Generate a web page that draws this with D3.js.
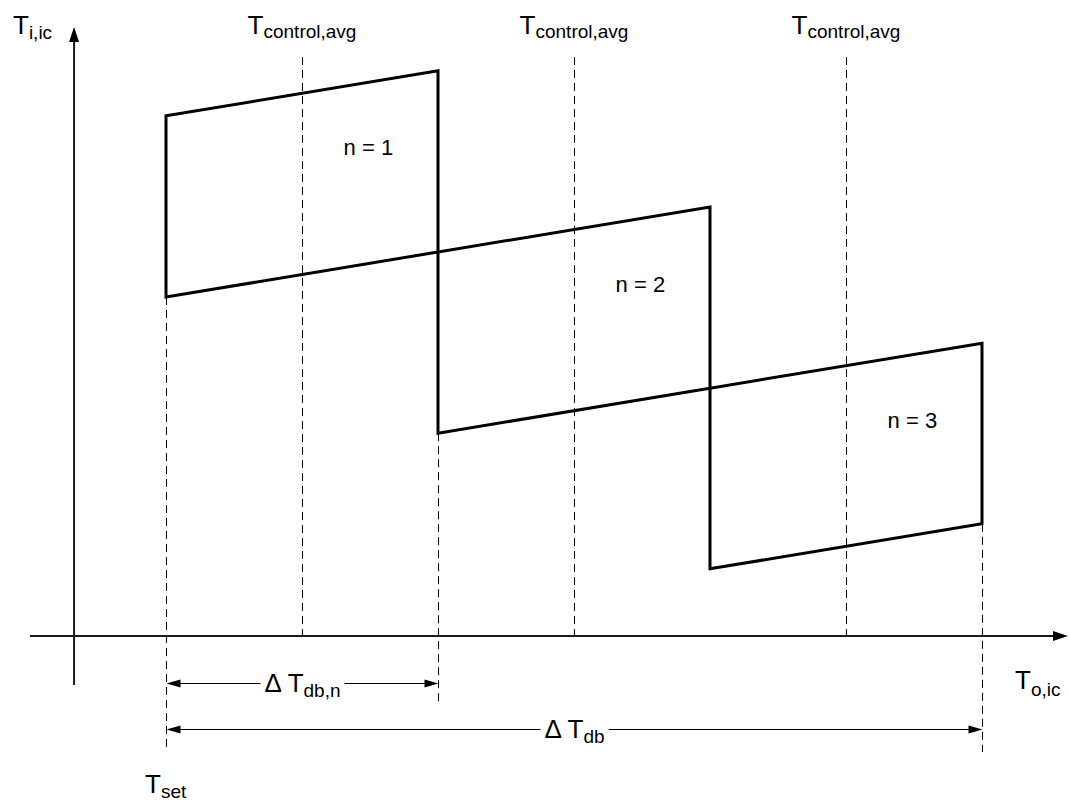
<!DOCTYPE html>
<html><head><meta charset="utf-8">
<script src="https://cdn.jsdelivr.net/npm/d3@7"></script>
<style>
body{margin:0;background:#fff}
svg{display:block}
text{font-family:Arial,"Liberation Sans",sans-serif;fill:#000}
</style>
</head><body>
<svg id="chart" width="1070" height="804"></svg>
<script>
// Stage boundaries along the outdoor temperature axis (dead-band units, T_set = 0)
const stageLabels = ["n = 1", "n = 2", "n = 3"];
const stageLeft = [0, 1, 2];
const stageRight = [1, 2, 3];
// Indoor temperature at the corners of each stage's hysteresis band
const upperLeft = [86.7, 64.0, 41.3];
const upperRight = [94.2, 71.5, 48.8];
const lowerLeft = [56.5, 33.8, 11.2];
const lowerRight = [64.0, 41.3, 18.7];
// Average control temperature of each stage
const controlAvg = [0.5, 1.5, 2.5];

const svg = d3.select("#chart");
const x = d3.scaleLinear().domain([0, 3]).range([166, 982]);
const y = d3.scaleLinear().domain([0, 100]).range([636, 36]);

const FONT = 26, SUB = 19;
// half-pixel snap keeps 1px strokes sharp
const snap = v => Math.round(v) + 0.5;

// ---- axes with arrow heads ----
const axisColor = "#1a1a1a";
const yAxisX = x(-0.338);
svg.append("line").attr("x1", x(-0.5)).attr("x2", 1056).attr("y1", y(0)).attr("y2", y(0))
  .attr("stroke", axisColor).attr("stroke-width", 2);
svg.append("path").attr("d", `M1068,${y(0)} L1053,${y(0) - 5} L1053,${y(0) + 5} Z`).attr("fill", "#000");
svg.append("line").attr("x1", yAxisX).attr("x2", yAxisX).attr("y1", 685).attr("y2", 40)
  .attr("stroke", axisColor).attr("stroke-width", 2);
svg.append("path").attr("d", `M${yAxisX},27 L${yAxisX - 5},42 L${yAxisX + 5},42 Z`).attr("fill", "#000");

// ---- dashed guide lines ----
const dash = "8,5";
controlAvg.forEach(c => {
  svg.append("line").attr("x1", snap(x(c))).attr("x2", snap(x(c))).attr("y1", 57).attr("y2", y(0))
    .attr("stroke", "#000").attr("stroke-width", 1).attr("stroke-dasharray", dash);
});
const extLines = [
  { xv: stageLeft[0], top: lowerLeft[0], bottom: 752 },
  { xv: stageLeft[1], top: lowerLeft[1], bottom: 706 },
  { xv: stageRight[2], top: lowerRight[2], bottom: 752 }
];
extLines.forEach(e => {
  svg.append("line").attr("x1", snap(x(e.xv))).attr("x2", snap(x(e.xv))).attr("y1", y(e.top)).attr("y2", e.bottom)
    .attr("stroke", "#000").attr("stroke-width", 1).attr("stroke-dasharray", dash);
});

// ---- hysteresis bands per stage ----
stageLabels.forEach((lab, i) => {
  const p = d3.path();
  p.moveTo(x(stageLeft[i]), y(lowerLeft[i]));
  p.lineTo(x(stageLeft[i]), y(upperLeft[i]));
  p.lineTo(x(stageRight[i]), y(upperRight[i]));
  p.lineTo(x(stageRight[i]), y(lowerRight[i]));
  p.closePath();
  svg.append("path").attr("d", p.toString()).attr("fill", "none")
    .attr("stroke", "#000").attr("stroke-width", 3).attr("stroke-linejoin", "miter");
  svg.append("text").attr("x", x(stageLeft[i] + 0.744)).attr("y", y(upperLeft[i] - 6.6))
    .attr("text-anchor", "middle").attr("font-size", 22).text(lab);
});

// ---- labels with subscripts ----
function subLabel(px, py, main, sub, anchor, shift) {
  const t = svg.append("text").attr("x", px).attr("y", py).attr("text-anchor", anchor || "start")
    .attr("font-size", FONT);
  t.append("tspan").text(main);
  t.append("tspan").attr("font-size", SUB).attr("dy", shift || 5).text(sub);
  return t;
}
controlAvg.forEach(c => subLabel(x(c), 34, "T", "control,avg", "middle", 4));
subLabel(13, 34, "T", "i,ic", "start", 5);
subLabel(1015, 689, "T", "o,ic", "start", 7);
subLabel(145, 793, "T", "set", "start", 5);

// ---- dimension arrows ----
function dimension(x1, x2, py, main, sub) {
  svg.append("line").attr("x1", x1 + 10).attr("x2", x2 - 10).attr("y1", py + 0.5).attr("y2", py + 0.5)
    .attr("stroke", "#000").attr("stroke-width", 1);
  svg.append("path").attr("d", `M${x1},${py + 0.5} L${x1 + 14},${py - 3.5} L${x1 + 14},${py + 4.5} Z`).attr("fill", "#000");
  svg.append("path").attr("d", `M${x2},${py + 0.5} L${x2 - 14},${py - 3.5} L${x2 - 14},${py + 4.5} Z`).attr("fill", "#000");
  const t = svg.append("text").attr("x", (x1 + x2) / 2).attr("y", py + 9)
    .attr("text-anchor", "middle").attr("font-size", FONT);
  t.append("tspan").text(main);
  t.append("tspan").attr("font-size", SUB).attr("dy", 5).text(sub);
  const bb = t.node().getBBox();
  svg.insert("rect", () => t.node()).attr("x", bb.x - 4).attr("y", py - 2)
    .attr("width", bb.width + 8).attr("height", 5).attr("fill", "#fff");
}
dimension(snap(x(stageLeft[0])), snap(x(stageRight[0])), 683, "\u0394 T", "db,n");
dimension(snap(x(stageLeft[0])), snap(x(stageRight[2])), 729, "\u0394 T", "db");
</script>
</body></html>
